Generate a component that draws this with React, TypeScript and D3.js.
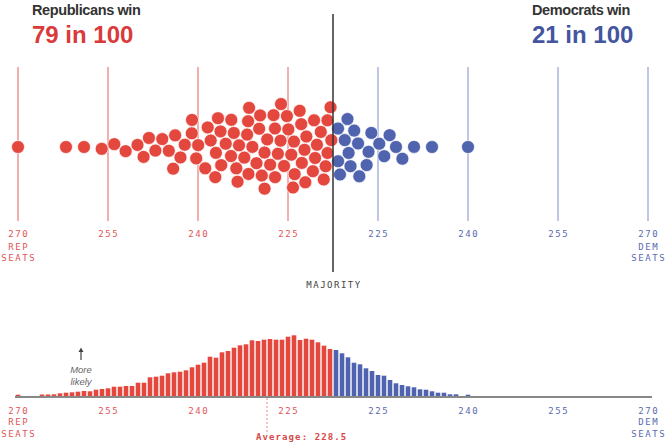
import React, { useEffect, useRef } from "react";
import * as d3 from "d3";

// 100 simulated outcomes, as Democratic seats won
const outcomeDemSeats = [
  165, 173, 176, 179, 181, 183, 185, 186, 187, 188,
  189, 190, 191, 191, 192, 193, 194, 194, 195, 195,
  196, 197, 197, 198, 198, 199, 199, 199, 200, 200,
  201, 201, 201, 202, 202, 203, 203, 203, 204, 204,
  204, 205, 205, 205, 206, 206, 206, 206, 207, 207,
  208, 208, 208, 209, 209, 209, 210, 210, 210, 211,
  211, 211, 212, 212, 213, 213, 213, 213, 214, 214,
  214, 215, 216, 216, 216, 216, 217, 217, 217,
  218, 218, 219, 219, 220, 220, 220, 221, 222, 222,
  223, 223, 224, 225, 226, 227, 228, 229, 231, 234, 240
];

// likelihood of each Democratic seat count (starting at 165)
const histFirstSeat = 165;
const histLikelihood = [
  1.3, 0, 0, 0, 1.5, 1.5, 1.7, 2.7, 3.3, 3.7,
  4.3, 5, 4.7, 6.3, 7, 7.7, 9.3, 9.3, 10, 10,
  13.3, 13.3, 18.7, 19.3, 20.3, 22.7, 23.7, 24.3, 25.7, 28.7,
  31.3, 33.3, 39.3, 38.3, 43.7, 45, 48.3, 50.7, 51.7, 55.7,
  55, 56.3, 57, 56.3, 56.3, 59.3, 60.7, 56, 57.3, 56.3,
  53.7, 50.3, 47, 46, 42.7, 38.7, 33.3, 31.7, 27.7, 25,
  21, 20.3, 16, 12.7, 11, 9.7, 8.7, 6.7, 6.3, 4.7,
  3.3, 3.3, 1.7, 1.7, 0, 1.3
];

const tickDemSeats = [165, 180, 195, 210, 225, 240, 255, 270];
const totalSeats = 435;
const majority = 217.5;
const averageRepSeats = 228.5;

const headers = [
  { title: "Republicans win", odds: "79 in 100", party: "rep" },
  { title: "Democrats win", odds: "21 in 100", party: "dem" }
];

const RED = "#e4473e";
const BLUE = "#4f63ae";
const MONO = "'DejaVu Sans Mono', monospace";
const SANS = "'Liberation Sans', Arial, sans-serif";

const isRep = (d: number) => d < majority;
const tickLabel = (d: number) => String(isRep(d) ? totalSeats - d : d);

export default function App() {
  const ref = useRef<SVGSVGElement>(null);

  useEffect(() => {
    const svg = d3.select(ref.current);
    svg.selectAll("*").remove();

    const x = d3.scaleLinear().domain([165, 270]).range([18, 648]);

    // headers
    const hx = [32, 532];
    headers.forEach((h, i) => {
      svg.append("text")
        .attr("x", hx[i]).attr("y", 15)
        .style("font-family", SANS).style("font-weight", "bold")
        .style("font-size", "14.5px").style("letter-spacing", "-0.4px")
        .attr("fill", "#333").text(h.title);
      svg.append("text")
        .attr("x", hx[i]).attr("y", 43)
        .style("font-family", SANS).style("font-weight", "bold")
        .style("font-size", "24px")
        .attr("fill", h.party === "rep" ? "#d93a3a" : "#44559f").text(h.odds);
    });

    // top tick lines
    svg.selectAll("line.tick")
      .data(tickDemSeats)
      .enter().append("line")
      .attr("class", "tick")
      .attr("x1", (d) => x(d)).attr("x2", (d) => x(d))
      .attr("y1", 67).attr("y2", 221)
      .attr("stroke", (d) => (isRep(d) ? "#ef9393" : "#aab4dc"))
      .attr("stroke-width", 1.5);

    // axis labels, top and bottom
    const drawLabels = (ys: number[]) => {
      tickDemSeats.forEach((d) => {
        const lines = [tickLabel(d)];
        if (d === 165) lines.push("REP", "SEATS");
        if (d === 270) lines.push("DEM", "SEATS");
        lines.forEach((t, j) => {
          svg.append("text")
            .attr("x", x(d) + 0.8).attr("y", ys[j])
            .attr("text-anchor", "middle")
            .style("font-family", MONO).style("font-size", "9px")
            .style("letter-spacing", "1.6px")
            .attr("fill", isRep(d) ? "#e0555a" : "#5a6bb0")
            .text(t);
        });
      });
    };
    drawLabels([237, 250, 261]);
    drawLabels([414, 425, 437]);

    // beeswarm
    const nodes: any[] = outcomeDemSeats.map((s) => ({ seats: s, x: x(s), y: 147 }));
    const sim = d3.forceSimulation(nodes)
      .force("x", d3.forceX((d: any) => x(d.seats)).strength(1))
      .force("y", d3.forceY(147).strength(0.06))
      .force("collide", d3.forceCollide(6.7))
      .stop();
    for (let i = 0; i < 300; i++) sim.tick();

    svg.append("g").selectAll("circle")
      .data(nodes)
      .enter().append("circle")
      .attr("cx", (d) => d.x).attr("cy", (d) => d.y)
      .attr("r", 6.5)
      .attr("fill", (d) => (isRep(d.seats) ? RED : BLUE))
      .attr("stroke", "#fff").attr("stroke-width", 0.7);

    // majority line
    svg.append("line")
      .attr("x1", x(majority)).attr("x2", x(majority))
      .attr("y1", 14).attr("y2", 272)
      .attr("stroke", "#333").attr("stroke-width", 1.5);
    svg.append("text")
      .attr("x", x(majority) + 1).attr("y", 288)
      .attr("text-anchor", "middle")
      .style("font-family", MONO).style("font-size", "9px")
      .style("letter-spacing", "1.5px")
      .attr("fill", "#444").text("MAJORITY");

    // histogram
    const hist = histLikelihood.map((v, i) => ({ seats: histFirstSeat + i, v }));
    const y = d3.scaleLinear().domain([0, 60.7]).range([396, 335.3]);

    svg.append("line")
      .attr("x1", 15).attr("x2", 652)
      .attr("y1", 397).attr("y2", 397)
      .attr("stroke", "#888").attr("stroke-width", 1.8);

    svg.append("g").selectAll("rect")
      .data(hist.filter((d) => d.v > 0))
      .enter().append("rect")
      .attr("x", (d) => x(d.seats) - 2.3)
      .attr("width", 4.6)
      .attr("y", (d) => y(d.v))
      .attr("height", (d) => y(0) - y(d.v))
      .attr("fill", (d) => (isRep(d.seats) ? RED : BLUE));

    // average marker
    const avgX = x(totalSeats - averageRepSeats);
    svg.append("line")
      .attr("x1", avgX).attr("x2", avgX)
      .attr("y1", 398).attr("y2", 432)
      .attr("stroke", "#f08a8a").attr("stroke-width", 1)
      .attr("stroke-dasharray", "2,2");
    svg.append("text")
      .attr("x", avgX - 11).attr("y", 440)
      .style("font-family", MONO).style("font-size", "9px")
      .style("font-weight", "bold").style("letter-spacing", "1.1px")
      .attr("fill", "#d9474a")
      .text(`Average: ${averageRepSeats}`);

    // "More likely" note
    const note = svg.append("g").attr("transform", "translate(81,0)");
    note.append("line")
      .attr("x1", 0).attr("x2", 0).attr("y1", 360).attr("y2", 351)
      .attr("stroke", "#444").attr("stroke-width", 1.2);
    note.append("path")
      .attr("d", "M-2.5,352 L0,347.5 L2.5,352 Z")
      .attr("fill", "#444");
    ["More", "likely"].forEach((t, j) => {
      note.append("text")
        .attr("x", 0).attr("y", 373 + j * 12)
        .attr("text-anchor", "middle")
        .style("font-family", SANS).style("font-style", "italic")
        .style("font-size", "9.5px")
        .attr("fill", "#666").text(t);
    });
  }, []);

  return (
    <svg
      ref={ref}
      width={667}
      height={443}
      style={{ position: "absolute", left: 0, top: 0, background: "#fff" }}
    />
  );
}
